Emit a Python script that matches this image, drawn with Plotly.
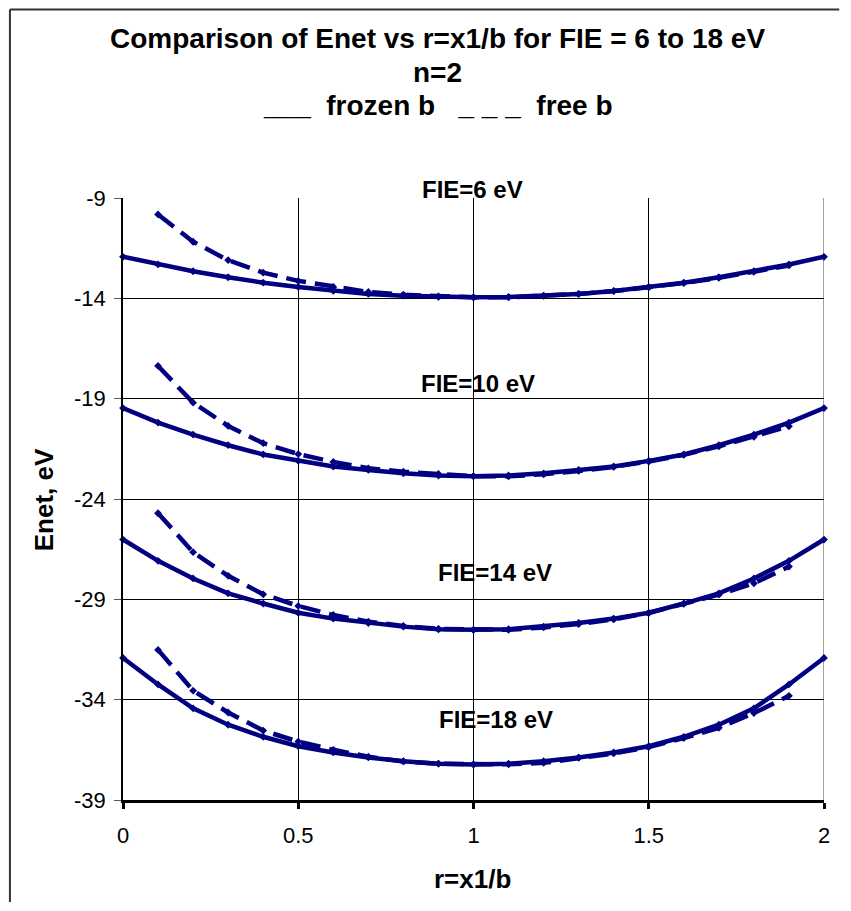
import plotly.graph_objects as go

# ---- data ----
r_frozen = [0.0, 0.1, 0.2, 0.3, 0.4, 0.5, 0.6, 0.7, 0.8, 0.9, 1.0,
            1.1, 1.2, 1.3, 1.4, 1.5, 1.6, 1.7, 1.8, 1.9, 2.0]
r_free = [0.1, 0.2, 0.3, 0.4, 0.5, 0.6, 0.7, 0.8, 0.9, 1.0,
          1.1, 1.2, 1.3, 1.4, 1.5, 1.6, 1.7, 1.8, 1.9]

frozen_6 = [-11.93, -12.31, -12.65, -12.95, -13.22, -13.43, -13.63, -13.78, -13.87, -13.93, -13.95,
            -13.93, -13.87, -13.78, -13.63, -13.43, -13.22, -12.95, -12.65, -12.31, -11.93]
free_6 = [-9.82, -11.18, -12.10, -12.72, -13.13, -13.43, -13.68, -13.82, -13.90, -13.95,
          -13.95, -13.88, -13.78, -13.64, -13.45, -13.24, -12.98, -12.68, -12.36]

frozen_10 = [-19.47, -20.19, -20.79, -21.32, -21.78, -22.10, -22.38, -22.55, -22.72, -22.83, -22.87,
             -22.83, -22.72, -22.55, -22.38, -22.10, -21.78, -21.32, -20.79, -20.19, -19.47]
free_10 = [-17.37, -19.20, -20.36, -21.22, -21.76, -22.15, -22.47, -22.64, -22.75, -22.86,
           -22.87, -22.77, -22.60, -22.40, -22.13, -21.80, -21.38, -20.90, -20.38]

frozen_14 = [-26.02, -27.08, -27.96, -28.70, -29.21, -29.67, -29.96, -30.18, -30.36, -30.49, -30.52,
             -30.49, -30.36, -30.18, -29.96, -29.67, -29.21, -28.70, -27.96, -27.08, -26.02]
free_14 = [-24.71, -26.65, -27.83, -28.75, -29.33, -29.78, -30.11, -30.33, -30.47, -30.52,
           -30.52, -30.40, -30.23, -30.00, -29.68, -29.22, -28.76, -28.20, -27.37]

frozen_18 = [-31.92, -33.24, -34.43, -35.25, -35.85, -36.32, -36.63, -36.88, -37.07, -37.19, -37.23,
             -37.19, -37.07, -36.88, -36.63, -36.32, -35.85, -35.25, -34.43, -33.24, -31.92]
free_18 = [-31.52, -33.55, -34.64, -35.54, -36.09, -36.50, -36.84, -37.08, -37.19, -37.22,
           -37.22, -37.15, -36.90, -36.68, -36.36, -35.92, -35.40, -34.67, -33.81]

fie_labels = ["FIE=6 eV", "FIE=10 eV", "FIE=14 eV", "FIE=18 eV"]
x_ticks = [0, 0.5, 1, 1.5, 2]
x_tick_text = ["0", "0.5", "1", "1.5", "2"]
y_ticks = [-9, -14, -19, -24, -29, -34, -39]
y_tick_text = ["-9", "-14", "-19", "-24", "-29", "-34", "-39"]

title_lines = ["Comparison of Enet vs r=x1/b for FIE = 6 to 18 eV",
               "n=2",
               "___\u00a0\u00a0frozen b\u00a0\u00a0\u00a0_ _ _\u00a0\u00a0free b"]

# ---- figure ----
NAVY = "#000080"
FONT = "Liberation Sans, Arial, sans-serif"

fig = go.Figure()
for fr, fe in [(frozen_6, free_6), (frozen_10, free_10), (frozen_14, free_14), (frozen_18, free_18)]:
    fig.add_trace(go.Scatter(x=r_frozen, y=fr, mode="lines+markers",
                             line=dict(color=NAVY, width=4.5),
                             marker=dict(symbol="diamond", size=6, color=NAVY),
                             showlegend=False, hoverinfo="skip", cliponaxis=False))
    fig.add_trace(go.Scatter(x=r_free, y=fe, mode="lines+markers",
                             line=dict(color=NAVY, width=4.5, dash="20px,9px"),
                             marker=dict(symbol="diamond", size=6, color=NAVY),
                             showlegend=False, hoverinfo="skip", cliponaxis=False))

# page body has an 8px margin; work in window pixel coordinates
OFF = 8
W, H = 834, 894
PL, PR, PT, PB = 123, 826.7, 198, 800   # plot area in window pixels
L = PL - OFF
R = W - (PR - OFF)
T = PT - OFF
B = H - (PB - OFF)
pw = PR - PL
ph = PB - PT

def px_x(p):
    return (p - PL) / pw

def px_y(p):
    return (PB - p) / ph

annotations = []
for i, line in enumerate(title_lines):
    annotations.append(dict(text=f"<b>{line}</b>", x=px_x(439), y=px_y([38, 72, 105][i]),
                            xref="paper", yref="paper", showarrow=False,
                            xanchor="center", yanchor="middle",
                            font=dict(family=FONT, size=28, color="black")))

label_px = [(474, 190), (479, 383), (496, 572), (497, 719)]
for txt, (lx, ly) in zip(fie_labels, label_px):
    annotations.append(dict(text=f"<b>{txt}</b>", x=px_x(lx), y=px_y(ly), xref="paper", yref="paper",
                            showarrow=False, xanchor="center", yanchor="middle",
                            font=dict(family=FONT, size=24, color="black")))

annotations.append(dict(text="<b>r=x1/b</b>", x=px_x(474), y=px_y(879), xref="paper", yref="paper",
                        showarrow=False, xanchor="center", yanchor="middle",
                        font=dict(family=FONT, size=26, color="black")))
annotations.append(dict(text="<b>Enet, eV</b>", x=px_x(44), y=px_y(500), xref="paper", yref="paper",
                        showarrow=False, xanchor="center", yanchor="middle", textangle=-90,
                        font=dict(family=FONT, size=26, color="black")))

shapes = [
    # outer chart frame: top edge and left edge
    dict(type="line", xref="paper", yref="paper",
         x0=px_x(9.5), x1=px_x(OFF + W), y0=px_y(9.5), y1=px_y(9.5),
         line=dict(color="#333333", width=2), layer="below"),
    dict(type="line", xref="paper", yref="paper",
         x0=px_x(9.5), x1=px_x(9.5), y0=px_y(9.5), y1=px_y(OFF + H),
         line=dict(color="#333333", width=2), layer="below"),
    # right plot-area border
    dict(type="line", xref="x", yref="y", x0=2, x1=2, y0=-39, y1=-9,
         line=dict(color="#808080", width=1.5), layer="below"),
]

fig.update_layout(
    width=W, height=H,
    margin=dict(l=L, r=R, t=T, b=B),
    paper_bgcolor="white", plot_bgcolor="white",
    annotations=annotations, shapes=shapes,
    font=dict(family=FONT, color="black"),
)
fig.update_xaxes(range=[0, 2], tickvals=x_ticks, ticktext=x_tick_text,
                 showgrid=True, gridcolor="black", gridwidth=1,
                 showline=True, linecolor="black", linewidth=3,
                 ticks="outside", ticklen=6, tickwidth=3, tickcolor="black",
                 ticklabelstandoff=8,
                 tickfont=dict(family=FONT, size=22, color="black"),
                 zeroline=False, fixedrange=True)
fig.update_yaxes(range=[-39, -9], tickvals=y_ticks, ticktext=y_tick_text,
                 showgrid=True, gridcolor="black", gridwidth=1,
                 showline=True, linecolor="black", linewidth=1.5,
                 ticks="outside", ticklen=7, tickwidth=1, tickcolor="#555555",
                 ticklabelstandoff=4,
                 tickfont=dict(family=FONT, size=22, color="black"),
                 zeroline=False, fixedrange=True)

fig.write_html("out.html")
